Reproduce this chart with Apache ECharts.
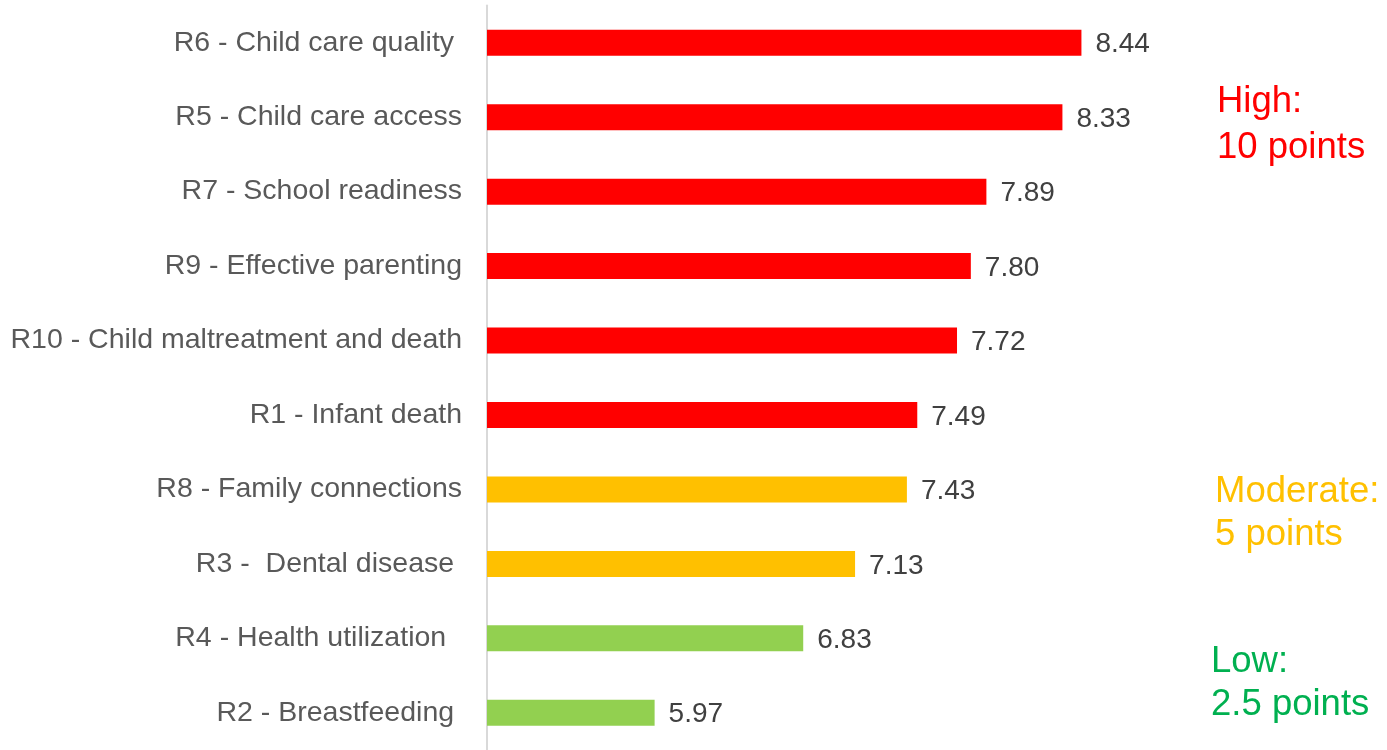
<!DOCTYPE html>
<html>
<head>
<meta charset="utf-8">
<script src="https://cdn.jsdelivr.net/npm/echarts@6/dist/echarts.min.js"></script>
<style>
html,body{margin:0;padding:0;background:#fff;}
#chart{width:1387px;height:750px;}
</style>
</head>
<body>
<div id="chart"></div>
<script>
const categories = [
  'R6 - Child care quality ',
  'R5 - Child care access',
  'R7 - School readiness',
  'R9 - Effective parenting',
  'R10 - Child maltreatment and death',
  'R1 - Infant death',
  'R8 - Family connections',
  'R3 -  Dental disease ',
  'R4 - Health utilization  ',
  'R2 - Breastfeeding '
];
const values = [8.44, 8.33, 7.89, 7.80, 7.72, 7.49, 7.43, 7.13, 6.83, 5.97];
const levels = ['High','High','High','High','High','High','Moderate','Moderate','Low','Low'];
const axisMin = 5;
const axisMax = 10;
const annotations = [
  { level: 'High', lines: ['High:', '10 points'] },
  { level: 'Moderate', lines: ['Moderate:', '5 points'] },
  { level: 'Low', lines: ['Low:', '2.5 points'] }
];

const barColors = { High: '#FF0000', Moderate: '#FFC000', Low: '#92D050' };
const textColors = { High: '#FF0000', Moderate: '#FFC000', Low: '#00B050' };
const annotPos = {
  High: { x: 1217, y: 83, lh: 46 },
  Moderate: { x: 1215, y: 473, lh: 43 },
  Low: { x: 1211, y: 643, lh: 43 }
};
const FONT = '"Liberation Sans", Arial, sans-serif';

const graphics = [];
annotations.forEach(a => {
  const p = annotPos[a.level];
  a.lines.forEach((line, k) => {
    graphics.push({
      type: 'text',
      left: p.x,
      top: p.y + k * p.lh,
      style: { text: line, fill: textColors[a.level], font: '36.5px ' + FONT }
    });
  });
});

const chart = echarts.init(document.getElementById('chart'));
chart.setOption({
  animation: false,
  backgroundColor: '#ffffff',
  grid: { left: 487, right: 36, top: 5.5, height: 750, containLabel: false },
  xAxis: {
    type: 'value', min: axisMin, max: axisMax,
    show: false
  },
  yAxis: {
    type: 'category', data: categories, inverse: true,
    axisLine: { show: true, lineStyle: { color: '#D9D9D9', width: 2 } },
    axisTick: { show: false },
    axisLabel: { fontSize: 28.5, color: '#595959', fontFamily: FONT, margin: 25, padding: [6, 0, 0, 0] }
  },
  series: [{
    type: 'bar',
    barWidth: 26,
    data: values.map((v, i) => ({ value: v, itemStyle: { color: barColors[levels[i]] } })),
    label: {
      show: true, position: 'right', distance: 14, offset: [0, 2],
      fontSize: 28, color: '#404040', fontFamily: FONT,
      formatter: p => p.value.toFixed(2)
    }
  }],
  graphic: graphics
});
</script>
</body>
</html>
